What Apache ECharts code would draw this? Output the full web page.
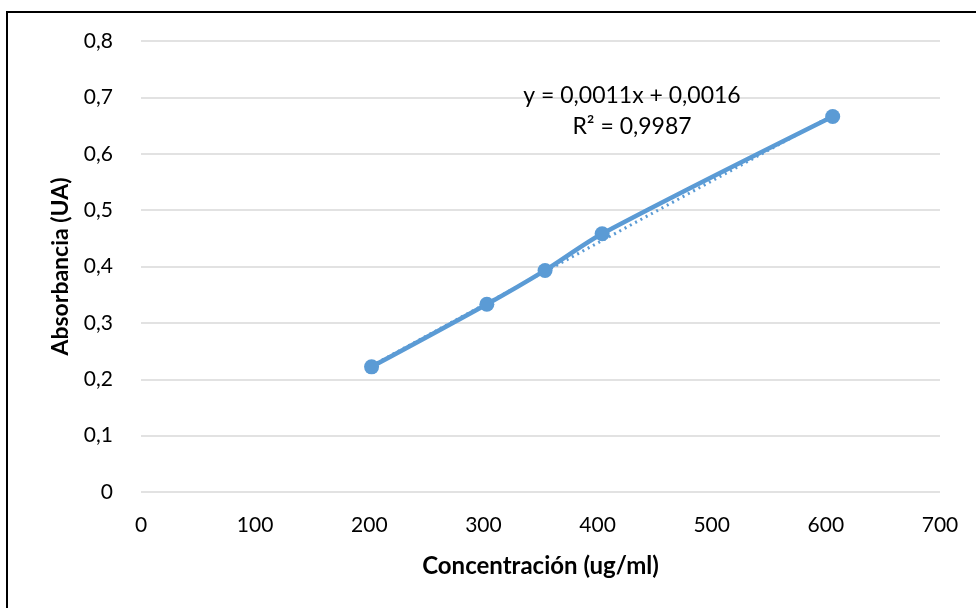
<!DOCTYPE html>
<html>
<head>
<meta charset="utf-8">
<script src="https://cdn.jsdelivr.net/npm/echarts@6/dist/echarts.min.js"></script>
<style>
  html, body { margin: 0; padding: 0; background: #fff; }
  #chart { width: 976px; height: 608px; }
</style>
</head>
<body>
<div id="chart"></div>
<script>
// Calibration points: concentration (ug/ml) vs absorbance (UA)
const concentration = [202, 303, 354, 404, 606];
const absorbance = [0.222, 0.333, 0.393, 0.458, 0.666];

// Linear fit reported on the chart
const slope = 0.0011;
const intercept = 0.0016;
const equationText = 'y = 0,0011x + 0,0016';
const r2Text = 'R² = 0,9987';

const xTitle = 'Concentración (ug/ml)';
const yTitle = 'Absorbancia (UA)';

const points = concentration.map((c, i) => [c, absorbance[i]]);
const xMin = Math.min(...concentration);
const xMax = Math.max(...concentration);
const trend = [xMin, xMax].map(x => [x, slope * x + intercept]);

const FONT = 'Lato, "Open Sans", sans-serif';
const BLUE = '#5B9BD5';
const fmt = v => String(+v.toFixed(1)).replace('.', ',');

const chart = echarts.init(document.getElementById('chart'));
chart.setOption({
  animation: false,
  backgroundColor: '#fff',
  grid: { left: 141, right: 36, top: 41, bottom: 116 },
  xAxis: {
    type: 'value', min: 0, max: 700, interval: 100,
    name: xTitle, nameLocation: 'middle', nameGap: 62,
    nameTextStyle: { fontFamily: FONT, fontSize: 24, fontWeight: 'bold', color: '#000' },
    axisLine: { show: false }, axisTick: { show: false },
    axisLabel: { margin: 23, fontFamily: FONT, fontSize: 21, color: '#000' },
    splitLine: { show: false }
  },
  yAxis: {
    type: 'value', min: 0, max: 0.8, interval: 0.1,
    name: yTitle, nameLocation: 'middle', nameGap: 69,
    nameTextStyle: { fontFamily: FONT, fontSize: 23, fontWeight: 'bold', color: '#000' },
    axisLine: { show: false }, axisTick: { show: false },
    axisLabel: { margin: 28, fontFamily: FONT, fontSize: 21, color: '#000', formatter: fmt },
    splitLine: { lineStyle: { color: '#d9d9d9', width: 1.5 } }
  },
  graphic: [
    { type: 'rect', silent: true, shape: { x: 7, y: 12, width: 1200, height: 1200 },
      style: { fill: 'none', stroke: '#000', lineWidth: 2 } },
    { type: 'text', x: 632, y: 96, z: 10,
      style: { text: equationText, fontFamily: FONT, fontSize: 23, fill: '#000',
               textAlign: 'center', textVerticalAlign: 'middle' } },
    { type: 'text', x: 632, y: 127, z: 10,
      style: { text: r2Text, fontFamily: FONT, fontSize: 23, fill: '#000',
               textAlign: 'center', textVerticalAlign: 'middle' } }
  ],
  series: [
    {
      type: 'line', data: trend, symbol: 'none', z: 1,
      lineStyle: { color: BLUE, width: 3, type: [2, 4] }
    },
    {
      type: 'line', data: points, smooth: 0.3, z: 2,
      symbol: 'circle', symbolSize: 15,
      itemStyle: { color: BLUE },
      lineStyle: { color: BLUE, width: 4.5 }
    }
  ]
});
</script>
</body>
</html>
